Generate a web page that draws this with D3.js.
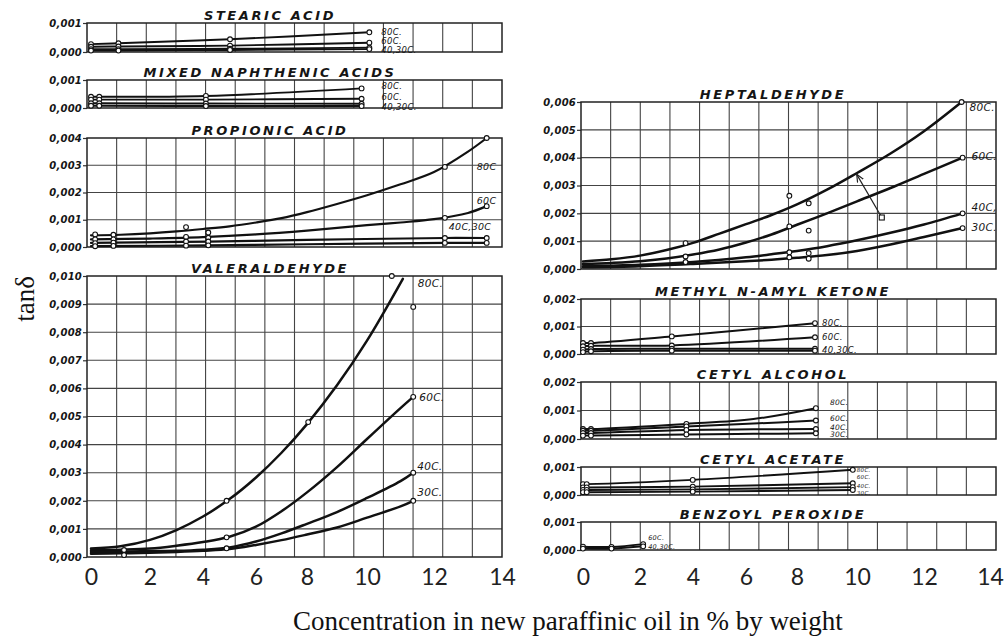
<!DOCTYPE html>
<html>
<head>
<meta charset="utf-8">
<script src="https://cdn.jsdelivr.net/npm/d3@7"></script>
<style>
  body { margin: 0; background: #fff; }
  svg { display: block; }
  .letter { font-family: "DejaVu Sans", sans-serif; font-style: italic; fill: #151515; }
</style>
</head>
<body>
<svg id="chart" width="1005" height="641"></svg>
<script>
// ---------------- data ----------------
// printed concentration scale (% by weight)
const concTicks = [0, 2, 4, 6, 8, 10, 12, 14];

// Stearic acid
const stearicConc = [0, 0.93, 5.02, 10.07];
const stearic80 = [0.00027, 0.0003, 0.00044, 0.00068];
const stearic60 = [0.00018, 0.00019, 0.00022, 0.00032];
const stearic40 = [0.0001, 0.0001, 0.00011, 0.00015];
const stearic30 = [0.00005, 0.00005, 0.00007, 0.0001];

// Mixed naphthenic acids
const naphConc = [0, 0.28, 4.11, 9.82];
const naph80 = [0.0004, 0.0004, 0.00043, 0.0007];
const naph60 = [0.0003, 0.0003, 0.0003, 0.00033];
const naph40 = [0.00017, 0.00017, 0.00016, 0.00015];
const naph30 = [0.00008, 0.00008, 0.00007, 0.00007];

// Propionic acid: curves and measured points
const propConc80 = [0, 1, 2, 3, 4, 5, 6, 7, 8, 9, 10, 11, 12, 13, 13.55];
const prop80 = [0.00043, 0.00045, 0.0005, 0.00057, 0.00066, 0.00076, 0.0009, 0.00106, 0.00128, 0.00158, 0.0019, 0.0023, 0.00275, 0.0035, 0.004];
const propConc60 = [0, 2, 4, 6, 8, 10, 11, 12, 13, 13.55];
const prop60 = [0.00028, 0.00031, 0.00036, 0.00046, 0.0006, 0.0008, 0.0009, 0.00102, 0.00125, 0.0015];
const propConcLow = [0, 4.2, 8, 12.32, 13.55];
const prop40 = [0.00015, 0.0002, 0.00026, 0.00033, 0.00033];
const prop30 = [0.00003, 0.00006, 0.0001, 0.00015, 0.00015];
const propPointConc = [0.14, 0.76, 3.36, 4.2, 12.32, 13.55];
const prop80Points = [0.00046, 0.00045, 0.00073, 0.00053, 0.00294, 0.004];
const prop60Points = [0.00028, 0.00028, 0.00037, 0.00034, 0.00107, 0.0015];
const prop40Points = [0.00014, 0.00016, 0.0002, 0.0002, 0.00033, 0.00033];
const prop30Points = [0.00003, 0.00004, 0.00005, 0.00006, 0.00015, 0.00015];

// Valeraldehyde
const valConc80 = [0, 1, 2, 3, 4, 5, 6, 7, 8, 9, 10, 11.07];
const val80 = [0.0003, 0.00038, 0.00061, 0.00096, 0.00144, 0.00206, 0.00283, 0.00371, 0.00473, 0.00611, 0.0077, 0.0099];
const valConc = [0, 1, 2, 3, 4, 5, 6, 7, 8, 9, 10, 11, 11.38];
const val60 = [0.00024, 0.00026, 0.0003, 0.0004, 0.00053, 0.00072, 0.00108, 0.00163, 0.0023, 0.0032, 0.0042, 0.0053, 0.0057];
const val40 = [0.00018, 0.00019, 0.00021, 0.00022, 0.00026, 0.00034, 0.00055, 0.00084, 0.00118, 0.0016, 0.0021, 0.0027, 0.003];
const val30 = [0.00012, 0.00013, 0.00015, 0.00018, 0.00022, 0.00028, 0.00043, 0.0006, 0.0008, 0.00105, 0.0014, 0.0018, 0.002];
const valPointConc = [1.12, 1.12, 4.89, 4.89, 4.89, 8.04, 10.74, 11.38, 11.38, 11.38, 11.38];
const valPoints = [0.00025, 0.00007, 0.002, 0.0007, 0.00031, 0.0048, 0.01, 0.0089, 0.0057, 0.003, 0.002];

// Heptaldehyde
const heptConc80 = [0, 1, 2, 3, 4, 5, 6, 7, 8, 9, 10, 11, 12, 13.14];
const hept80 = [0.00027, 0.00035, 0.00048, 0.00068, 0.00094, 0.00127, 0.00161, 0.00194, 0.00232, 0.00285, 0.00345, 0.00415, 0.00495, 0.006];
const heptConc60 = [0, 1, 2, 3, 4, 5, 6, 7, 8, 9, 10, 11, 12, 13.17];
const hept60 = [0.00018, 0.00022, 0.00028, 0.00038, 0.00052, 0.0007, 0.00095, 0.00124, 0.00159, 0.002, 0.00243, 0.00291, 0.00342, 0.004];
const heptConcLow = [0, 2, 4, 6, 7, 8, 9, 10, 11, 12, 13.17];
const hept40 = [0.0001, 0.00015, 0.00025, 0.00042, 0.00053, 0.00065, 0.00082, 0.00103, 0.0013, 0.0016, 0.002];
const hept30 = [0.00006, 0.0001, 0.00018, 0.00028, 0.00033, 0.0004, 0.0005, 0.00065, 0.00088, 0.00115, 0.00147];
const heptPointConc = [3.72, 3.72, 3.72, 7.7, 7.7, 7.7, 7.7, 8.39, 8.39, 8.39, 8.39, 13.14, 13.17, 13.17, 13.17];
const heptPoints = [0.00093, 0.00045, 0.00025, 0.00263, 0.00153, 0.0006, 0.00042, 0.00236, 0.00138, 0.00057, 0.00037, 0.006, 0.004, 0.002, 0.00147];
const heptSquare = [10.74, 0.00185];
const heptArrowTip = [9.99, 0.0034];

// Methyl n-amyl ketone
const ketoneConc = [0, 0.28, 3.2, 8.6];
const ketone80 = [0.0004, 0.0004, 0.00064, 0.00112];
const ketone60 = [0.00028, 0.0003, 0.00031, 0.00061];
const ketone40 = [0.00016, 0.00018, 0.00019, 0.00019];
const ketone30 = [0.00007, 0.0001, 0.00012, 0.00012];

// Cetyl alcohol
const alcoholConc = [0, 0.28, 3.75, 6.29, 8.63];
const alcohol80 = [0.00035, 0.00035, 0.00053, 0.0007, 0.00108];
const alcohol60 = [0.00029, 0.00029, 0.00044, 0.00054, 0.00065];
const alcohol40 = [0.00021, 0.00021, 0.00032, 0.00034, 0.00035];
const alcohol30 = [0.00012, 0.00012, 0.00016, 0.00018, 0.0002];

// Cetyl acetate
const acetateConc = [0, 0.13, 3.99, 9.86];
const acetate80 = [0.00039, 0.00039, 0.00054, 0.0009];
const acetate60 = [0.00027, 0.00027, 0.0003, 0.00042];
const acetate40 = [0.00018, 0.00018, 0.0002, 0.00028];
const acetate30 = [0.0001, 0.0001, 0.00012, 0.00018];

// Benzoyl peroxide
const peroxideConc = [0, 1.0, 2.12];
const peroxide60 = [0.00012, 0.00011, 0.00021];
const peroxide40 = [0.00005, 0.00005, 0.00013];

// ---------------- layout ----------------
// each column carries its own printed tick spacing
const columns = {
  left:  { x: 87,  titleX: 183, ticks: [4, 63, 116, 169, 220, 280, 347, 415] },
  right: { x: 581, titleX: 192, ticks: [2, 59, 112, 165, 216, 276, 343, 409] }
};
const plotW = 415;
const zip = (a, b) => a.map((v, i) => [v, b[i]]);

const panels = [
  { title: "STEARIC ACID", col: "left", top: 23, bottom: 52, yMax: 0.001, lw: 1.9, fs: 8.5,
    series: [
      { c: stearicConc, v: stearic80, label: "80C.", dx: 12, dy: 3 },
      { c: stearicConc, v: stearic60, label: "60C.", dx: 12, dy: 1 },
      { c: stearicConc, v: stearic40, label: "40,30C.", dx: 12, dy: 5 },
      { c: stearicConc, v: stearic30 } ] },
  { title: "MIXED NAPHTHENIC ACIDS", col: "left", top: 80, bottom: 108, yMax: 0.001, lw: 1.9, fs: 8.5,
    series: [
      { c: naphConc, v: naph80, label: "80C.", dx: 20, dy: 1 },
      { c: naphConc, v: naph60, label: "60C.", dx: 20, dy: 1 },
      { c: naphConc, v: naph40, label: "40,30C.", dx: 20, dy: 6 },
      { c: naphConc, v: naph30 } ] },
  { title: "PROPIONIC ACID", col: "left", top: 138, bottom: 247, yMax: 0.004, lw: 2.2, fs: 9.5,
    series: [
      { c: propConc80, v: prop80, pc: propPointConc, pv: prop80Points, label: "80C", dx: -10, dy: 32 },
      { c: propConc60, v: prop60, pc: propPointConc, pv: prop60Points, label: "60C", dx: -10, dy: -2 },
      { c: propConcLow, v: prop40, pc: propPointConc, pv: prop40Points, label: "40C,30C", dx: -38, dy: -8 },
      { c: propConcLow, v: prop30, pc: propPointConc, pv: prop30Points } ] },
  { title: "VALERALDEHYDE", col: "left", top: 276, bottom: 557, yMax: 0.010, lw: 2.5, fs: 10.5,
    points: zip(valPointConc, valPoints),
    series: [
      { c: valConc80, v: val80, label: "80C.", dx: 15, dy: 8, noPts: true },
      { c: valConc, v: val60, label: "60C.", dx: 6, dy: 4, noPts: true },
      { c: valConc, v: val40, label: "40C.", dx: 4, dy: -3, noPts: true },
      { c: valConc, v: val30, label: "30C.", dx: 4, dy: -5, noPts: true } ] },
  { title: "HEPTALDEHYDE", col: "right", top: 102, bottom: 269, yMax: 0.006, lw: 2.5, fs: 10.5,
    points: zip(heptPointConc, heptPoints),
    series: [
      { c: heptConc80, v: hept80, label: "80C.", dx: 8, dy: 9, noPts: true },
      { c: heptConc60, v: hept60, label: "60C.", dx: 9, dy: 2, noPts: true },
      { c: heptConcLow, v: hept40, label: "40C,", dx: 9, dy: -2, noPts: true },
      { c: heptConcLow, v: hept30, label: "30C.", dx: 9, dy: 3, noPts: true } ] },
  { title: "METHYL  N-AMYL KETONE", col: "right", top: 299, bottom: 354, yMax: 0.002, lw: 2.0, fs: 8.5,
    series: [
      { c: ketoneConc, v: ketone80, label: "80C.", dx: 7, dy: 3 },
      { c: ketoneConc, v: ketone60, label: "60C.", dx: 7, dy: 3 },
      { c: ketoneConc, v: ketone40, label: "40,30C.", dx: 7, dy: 4 },
      { c: ketoneConc, v: ketone30 } ] },
  { title: "CETYL ALCOHOL", col: "right", top: 382, bottom: 439, yMax: 0.002, lw: 2.0, fs: 7.5,
    series: [
      { c: alcoholConc, v: alcohol80, label: "80C.", dx: 14, dy: -3, skip: [3] },
      { c: alcoholConc, v: alcohol60, label: "60C.", dx: 14, dy: 1, skip: [3] },
      { c: alcoholConc, v: alcohol40, label: "40C.", dx: 14, dy: 1, skip: [3] },
      { c: alcoholConc, v: alcohol30, label: "30C.", dx: 14, dy: 4, skip: [3] } ] },
  { title: "CETYL ACETATE", col: "right", top: 467, bottom: 495, yMax: 0.001, lw: 1.9, fs: 5.5,
    series: [
      { c: acetateConc, v: acetate80, label: "80C.", dx: 4, dy: 2 },
      { c: acetateConc, v: acetate60, label: "60C.", dx: 4, dy: -4 },
      { c: acetateConc, v: acetate40, label: "40C.", dx: 4, dy: 0.5 },
      { c: acetateConc, v: acetate30, label: "30C.", dx: 4, dy: 5 } ] },
  { title: "BENZOYL PEROXIDE", col: "right", top: 522, bottom: 550, yMax: 0.001, lw: 2.0, fs: 6.5,
    series: [
      { c: peroxideConc, v: peroxide60, label: "60C.", dx: 5, dy: -4 },
      { c: peroxideConc, v: peroxide40, label: "40,30C.", dx: 5, dy: 3 } ] }
];

// ---------------- drawing ----------------
const svg = d3.select("#chart");
const paper = d3.scaleLinear().domain([0, 14]).range([0, plotW]);   // ruled grid, 14 cells
const fmt = d => d3.format(".3f")(d).replace(".", ",");
Object.values(columns).forEach(col => {
  col.scale = d3.scaleLinear().domain(concTicks).range(col.ticks);
});

svg.append("defs").append("marker")
  .attr("id", "arrowhead").attr("viewBox", "0 0 10 10").attr("refX", 9).attr("refY", 5)
  .attr("markerWidth", 7).attr("markerHeight", 7).attr("orient", "auto")
  .append("path").attr("d", "M0,1 L9,5 L0,9").attr("fill", "none").attr("stroke", "#222").attr("stroke-width", 1.4);

const circleStyle = sel => sel.attr("r", 2.4)
  .attr("fill", "#fff").attr("stroke", "#111").attr("stroke-width", 1.1);

panels.forEach(p => {
  const col = columns[p.col];
  const x = col.scale;
  const h = p.bottom - p.top;
  const y = d3.scaleLinear().domain([0, p.yMax]).range([h, 0]);
  const g = svg.append("g").attr("transform", `translate(${col.x},${p.top})`);

  // ruled paper
  g.selectAll("line.v").data(d3.range(1, 14)).join("line")
    .attr("x1", d => paper(d)).attr("x2", d => paper(d))
    .attr("y1", 0).attr("y2", h)
    .attr("stroke", "#444").attr("stroke-width", 1.1);

  const yTicks = d3.range(0, Math.round(p.yMax / 0.001) + 1).map(i => i * 0.001);
  g.selectAll("line.h").data(yTicks.slice(1, -1)).join("line")
    .attr("x1", 0).attr("x2", plotW).attr("y1", d => y(d)).attr("y2", d => y(d))
    .attr("stroke", "#444").attr("stroke-width", 1.1);

  const axis = g.append("g").call(d3.axisLeft(y).tickValues(yTicks).tickFormat(fmt).tickSize(4).tickPadding(1));
  axis.select(".domain").remove();
  axis.selectAll(".tick line").attr("stroke", "#333").attr("stroke-width", 1.2);
  axis.selectAll(".tick text")
    .attr("class", "letter").attr("font-size", 10).attr("font-weight", "bold")
    .attr("letter-spacing", 0.2).attr("fill", "#1a1a1a");

  g.append("rect").attr("width", plotW).attr("height", h)
    .attr("fill", "none").attr("stroke", "#222").attr("stroke-width", 1.5);

  g.append("text").attr("class", "letter")
    .attr("x", col.titleX).attr("y", -3).attr("text-anchor", "middle")
    .attr("font-size", 13).attr("font-weight", "bold").attr("letter-spacing", 2.6)
    .text(p.title);

  const line = d3.line().x(d => x(d[0])).y(d => y(d[1])).curve(d3.curveCatmullRom.alpha(0.5));

  p.series.forEach(s => {
    const pts = zip(s.c, s.v);
    g.append("path").datum(pts).attr("d", line)
      .attr("fill", "none").attr("stroke", "#111").attr("stroke-width", p.lw)
      .attr("stroke-linejoin", "round").attr("stroke-linecap", "round");
    if (!s.noPts) {
      const marks = s.pc ? zip(s.pc, s.pv) : pts.filter((d, i) => !(s.skip || []).includes(i));
      g.selectAll(null).data(marks).join("circle")
        .attr("cx", d => x(d[0])).attr("cy", d => y(d[1])).call(circleStyle);
    }
    if (s.label) {
      const end = pts[pts.length - 1];
      g.append("text").attr("class", "letter")
        .attr("x", x(end[0]) + s.dx).attr("y", y(end[1]) + s.dy)
        .attr("font-size", p.fs).attr("letter-spacing", 0.3)
        .text(s.label);
    }
  });

  if (p.points) {
    g.selectAll(null).data(p.points).join("circle")
      .attr("cx", d => x(d[0])).attr("cy", d => y(d[1])).call(circleStyle);
  }

  if (p.title === "HEPTALDEHYDE") {
    g.append("line")
      .attr("x1", x(heptSquare[0])).attr("y1", y(heptSquare[1]))
      .attr("x2", x(heptArrowTip[0])).attr("y2", y(heptArrowTip[1]))
      .attr("stroke", "#222").attr("stroke-width", 1.2).attr("marker-end", "url(#arrowhead)");
    g.append("rect")
      .attr("x", x(heptSquare[0]) - 2.5).attr("y", y(heptSquare[1]) - 2.5)
      .attr("width", 5).attr("height", 5)
      .attr("fill", "#fff").attr("stroke", "#111").attr("stroke-width", 1.1);
  }
});

// printed concentration scale under each column
Object.values(columns).forEach(col => {
  const ax = svg.append("g").attr("transform", `translate(${col.x},569)`)
    .call(d3.axisBottom(col.scale).tickValues(concTicks).tickSize(0).tickPadding(0));
  ax.select(".domain").remove();
  ax.selectAll("text").attr("font-family", "Lato, 'Open Sans', sans-serif")
    .attr("font-size", 23).attr("fill", "#222");
});

// axis titles
svg.append("text")
  .attr("transform", "translate(34,299) rotate(-90)")
  .attr("text-anchor", "middle")
  .attr("font-family", "'Liberation Serif', 'Times New Roman', serif")
  .attr("font-size", 27).attr("fill", "#111")
  .text("tanδ");

svg.append("text")
  .attr("x", 293).attr("y", 630)
  .attr("font-family", "'Liberation Serif', 'Times New Roman', serif")
  .attr("font-size", 27).attr("fill", "#111")
  .text("Concentration in new paraffinic oil in % by weight");
</script>
</body>
</html>
